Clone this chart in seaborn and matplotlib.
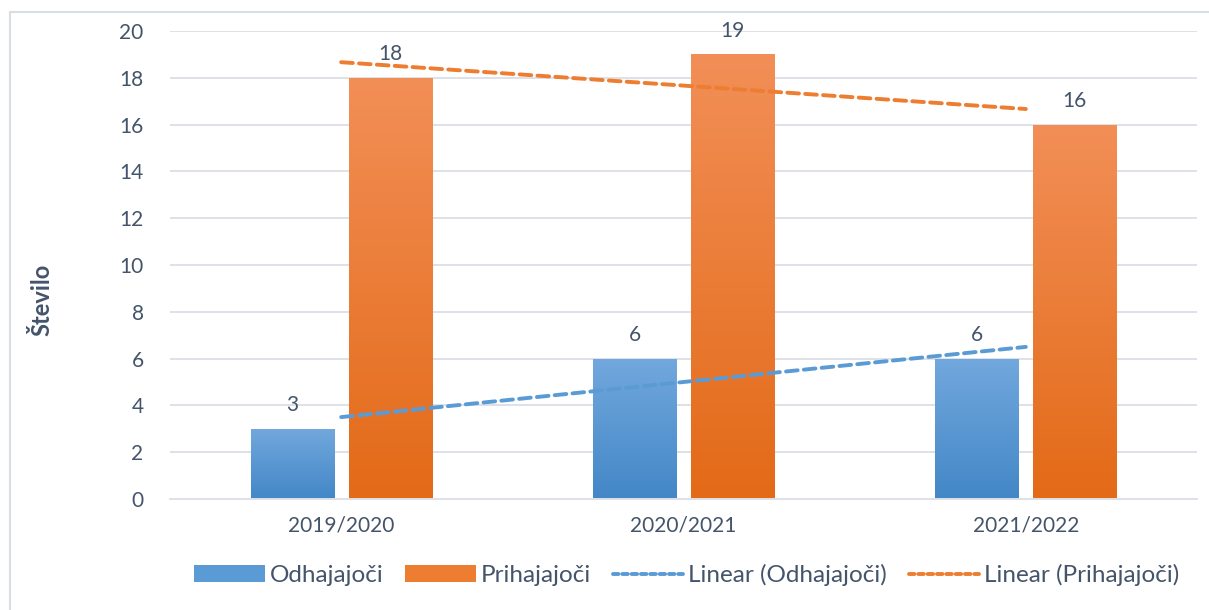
import numpy as np
import pandas as pd
import matplotlib
matplotlib.use("Agg")
import matplotlib.pyplot as plt
from matplotlib.colors import LinearSegmentedColormap
from matplotlib.patches import Patch, Rectangle
from matplotlib.lines import Line2D
import seaborn as sns

# Data
years = ["2019/2020", "2020/2021", "2021/2022"]
series_names = ["Odhajajoči", "Prihajajoči"]
odhajajoci = [3, 6, 6]
prihajajoci = [18, 19, 16]
y_ticks = [0, 2, 4, 6, 8, 10, 12, 14, 16, 18, 20]

# Styling
text_color = "#44546A"
grid_color = "#DEE2E8"
blue_top, blue_bottom = "#72A8DD", "#4387C7"
orange_top, orange_bottom = "#F28F57", "#E36A17"
blue_mid, orange_mid = "#5B9BD5", "#ED7D31"

sns.set_theme(style="white")
plt.rcParams["font.family"] = ["Lato", "DejaVu Sans"]

df = pd.DataFrame({
    "Leto": years * 2,
    "Serija": [series_names[0]] * 3 + [series_names[1]] * 3,
    "Število": odhajajoci + prihajajoci,
})

fig = plt.figure(figsize=(12.09, 6.10), dpi=100)
ax = fig.add_axes([170 / 1209, 1 - 499 / 610, (1197 - 170) / 1209, (499 - 31) / 610])

sns.barplot(data=df, x="Leto", y="Število", hue="Serija",
            palette=[blue_mid, orange_mid], width=0.572, gap=0.15,
            legend=False, ax=ax, zorder=2, linewidth=0)

# Vertical gradient fill for each bar, clipped to the bar shape
grad = np.linspace(0, 1, 256).reshape(-1, 1)
cmaps = [LinearSegmentedColormap.from_list("b", [blue_top, blue_bottom]),
         LinearSegmentedColormap.from_list("o", [orange_top, orange_bottom])]
for cont, cmap in zip(ax.containers, cmaps):
    for bar in cont:
        x0, y0 = bar.get_x(), bar.get_y()
        w, h = bar.get_width(), bar.get_height()
        im = ax.imshow(grad, cmap=cmap, aspect="auto",
                       extent=(x0, x0 + w, y0, y0 + h), origin="upper",
                       zorder=2.1)
        im.set_clip_path(bar)
        bar.set_facecolor("none")
    ax.bar_label(cont, padding=10, fontsize=15, color=text_color)

ax.set_ylim(0, 20)
ax.set_xlim(-0.5, 2.5)

# Linear trend lines
xs = np.arange(len(years))
trend_styles = [(odhajajoci, blue_mid), (prihajajoci, orange_mid)]
for vals, col in trend_styles:
    k, n = np.polyfit(xs, vals, 1)
    ax.plot([xs[0], xs[-1]], [n + k * xs[0], n + k * xs[-1]], color=col,
            lw=2.8, linestyle=(0, (3.0, 1.6)), dash_capstyle="round", zorder=4)

# Axes appearance
ax.set_yticks(y_ticks)
ax.yaxis.grid(True, color=grid_color, lw=1.4, zorder=0)
ax.set_axisbelow(True)
for s in ["top", "right", "left"]:
    ax.spines[s].set_visible(False)
ax.spines["bottom"].set_color(grid_color)
ax.spines["bottom"].set_linewidth(1.4)
ax.tick_params(axis="y", length=0, pad=19, labelsize=15, labelcolor=text_color)
ax.tick_params(axis="x", length=0, pad=12, labelsize=15, labelcolor=text_color)
ax.set_xlabel("")
ax.set_ylabel("Število", fontsize=17, fontweight="bold", color=text_color,
              labelpad=0, va="center")
ax.yaxis.set_label_coords(-128 / 1027, (499 - 300) / 468)

# Legend
handles = [
    Patch(facecolor=blue_mid, edgecolor="none", label=series_names[0]),
    Patch(facecolor=orange_mid, edgecolor="none", label=series_names[1]),
    Line2D([0], [0], color=blue_mid, lw=2.8, linestyle=(0, (1.4, 1.0)),
           dash_capstyle="round", label="Linear (Odhajajoči)"),
    Line2D([0], [0], color=orange_mid, lw=2.8, linestyle=(0, (1.4, 1.0)),
           dash_capstyle="round", label="Linear (Prihajajoči)"),
]
fig.legend(handles=handles, loc="center", bbox_to_anchor=(687 / 1209, 1 - 575 / 610),
           ncol=4, frameon=False, fontsize=17.5, labelcolor=text_color,
           handlelength=2.9, handleheight=0.64, handletextpad=0.2,
           columnspacing=0.9, borderpad=0, borderaxespad=0)

# Chart frame
fig.patches.append(Rectangle((10 / 1209, -0.1), 1.2, 1 - 12 / 610 + 0.1,
                             transform=fig.transFigure, fill=False,
                             edgecolor="#D9DEE4", lw=1.5))

fig.savefig("out.png", dpi=100)
